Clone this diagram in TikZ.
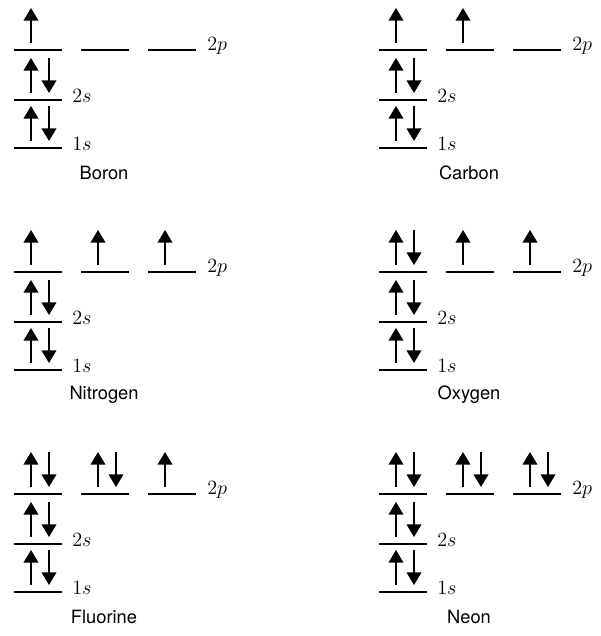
\documentclass[tikz,border=0pt]{standalone}
\usepackage{fontspec}
\newfontfamily\namefont{TeX Gyre Heros}
\usetikzlibrary{arrows.meta,calc}

\tikzset{
  level/.style={line width=1.8pt},
  spin/.style={line width=1.1pt,-{Triangle[width=10.5pt,length=9pt]}},
  shell/.style={anchor=west,inner sep=0pt,font=\fontsize{14}{16}\selectfont},
  atomname/.style={font=\namefont\fontsize{13}{15}\selectfont}
}

\begin{document}
\begin{tikzpicture}[x=0.025cm,y=-0.025cm]
\useasboundingbox (0,0) rectangle (600,636);

% one panel per atom: origin x, 2p level y, name, electrons in the three 2p boxes
\foreach \ox/\oy/\elem/\pa/\pb/\pc in {14/50/Boron/1/0/0, 379/50/Carbon/1/1/0,
        14/272/Nitrogen/1/1/1, 379/272/Oxygen/2/1/1,
        14/494/Fluorine/2/2/1, 379/494/Neon/2/2/2}
{
  % 2p
  \foreach \n [count=\i] in {\pa,\pb,\pc} {
    \coordinate (\elem-2p\i) at (\ox+24+67*\i-67,\oy);
    \draw[level] (\elem-2p\i) ++(-24,0) -- ++(48,0);
    \ifnum\n>0 \draw[spin] (\elem-2p\i) ++(-7,-7) -- ++(0,-35); \fi
    \ifnum\n>1 \draw[spin] (\elem-2p\i) ++(11,-42) -- ++(0,35); \fi
  }
  \node[shell] (\elem-2pl) at (\ox+193,\oy-4) {$2p$};

  % 2s and 1s
  \coordinate (\elem-2s) at (\ox+24,\oy+50);
  \coordinate (\elem-1s) at (\ox+24,\oy+98);
  \foreach \s in {2s,1s} {
    \draw[level] (\elem-\s) ++(-24,0) -- ++(48,0);
    \draw[spin] (\elem-\s) ++(-7,-7) -- ++(0,-35);
    \draw[spin] (\elem-\s) ++(11,-42) -- ++(0,35);
    \node[shell] (\elem-\s l) at ($(\elem-\s)+(34,-4)$) {$\s$};
  }

  \node[atomname] (\elem) at (\ox+90,\oy+123) {\elem};
}
\end{tikzpicture}
\end{document}
